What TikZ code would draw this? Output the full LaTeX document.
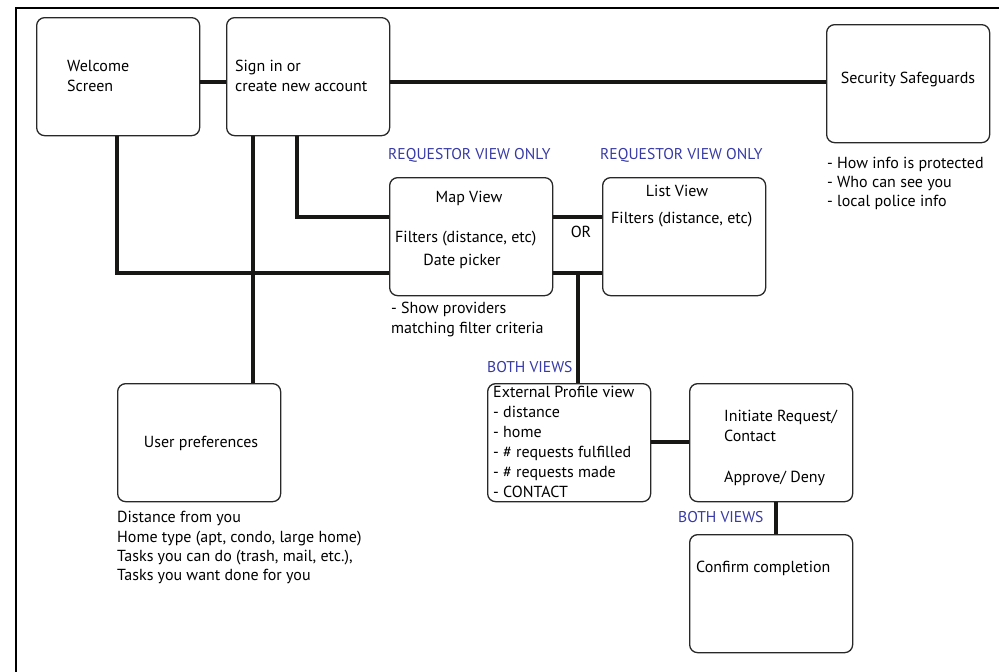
\documentclass[tikz,border=0pt]{standalone}
\usepackage{fontspec}
\setmainfont{PT Sans}
\begin{document}
\begin{tikzpicture}[x=1pt,y=-1pt,
  box/.style={draw={rgb,255:red,40;green,40;blue,40}, line width=1.3pt, rounded corners=8pt, fill=white,
    minimum width=163pt, minimum height=118pt, anchor=north west, inner sep=0pt},
  conn/.style={line width=4.6pt, draw={rgb,255:red,25;green,22;blue,22}},
  txt/.style={anchor=base west, inner sep=0pt, font=\fontsize{16}{19}\selectfont},
  ctxt/.style={anchor=base, inner sep=0pt, font=\fontsize{16}{19}\selectfont},
  blue/.style={anchor=base west, inner sep=0pt, font=\fontsize{15.6}{18}\selectfont, text={rgb,255:red,55;green,58;blue,165}}]
\useasboundingbox (0,0) rectangle (999,672);
% frame
\draw[line width=2.8pt] (16,700) -- (16,8) -- (1020,8);
% boxes
\node[box] (welcome) at (36,17) {};
\node[box] (signin) at (226,17) {};
\node[box] (security) at (826,24) {};
\node[box] (map) at (389,177) {};
\node[box] (list) at (602,177) {};
\node[box] (userpref) at (117,383) {};
\node[box] (ext) at (487,383) {};
\node[box] (init) at (689,383) {};
\node[box] (confirm) at (689,534) {};
% routing coordinates
\coordinate (r1) at (0,82);
\coordinate (r2) at (0,217);
\coordinate (r3) at (0,273);
\coordinate (r4) at (0,442);
\coordinate (c1) at (117,0);
\coordinate (c2) at (253,0);
\coordinate (c3) at (297,0);
\coordinate (c4) at (578,0);
\coordinate (c5) at (776,0);
% connectors
\draw[conn] (welcome.east |- r1) -- (signin.west |- r1);
\draw[conn] (signin.east |- r1) -- (security.west |- r1);
\draw[conn] (c1 |- welcome.south) -- (c1 |- r3) -- (map.west |- r3);
\draw[conn] (c2 |- signin.south) -- (c2 |- userpref.north);
\draw[conn] (c3 |- signin.south) -- (c3 |- r2) -- (map.west |- r2);
\draw[conn] (map.east |- r2) -- (list.west |- r2);
\draw[conn] (map.east |- r3) -- (list.west |- r3);
\draw[conn] (c4 |- r3) -- (c4 |- ext.north);
\draw[conn] (ext.east |- r4) -- (init.west |- r4);
\draw[conn] (c5 |- init.south) -- (c5 |- confirm.north);
% texts
\node[txt] (t1) at (67,71) {Welcome};
\node[txt] (t2) at (67,91) {Screen};
\node[txt] (t3) at (235,71) {Sign in or};
\node[txt] (t4) at (235,91) {create new account};
\node[ctxt] (t5) at (908,83) {Security Safeguards};
\node[txt] (t6) at (827,168) {- How info is protected};
\node[txt] (t7) at (827,187) {- Who can see you};
\node[txt] (t8) at (827,206) {- local police info};
\node[blue] (t9) at (388,159) {REQUESTOR VIEW ONLY};
\node[blue] (t10) at (600,159) {REQUESTOR VIEW ONLY};
\node[ctxt] (t11) at (469,202) {Map View};
\node[txt] (t12) at (395,242) {Filters (distance, etc)};
\node[ctxt] (t13) at (462,265) {Date picker};
\node[ctxt] (t14) at (581,237) {OR};
\node[ctxt] (t15) at (677,196) {List View};
\node[txt] (t16) at (611,223) {Filters (distance, etc)};
\node[txt] (t17) at (391,313) {- Show providers};
\node[txt] (t18) at (391,333) {matching filter criteria};
\node[blue] (t19) at (487,372) {BOTH VIEWS};
\node[txt] (t20) at (493,397) {External Profile view};
\node[txt] (t21) at (493,417) {- distance};
\node[txt] (t22) at (493,437) {- home};
\node[txt] (t23) at (493,457) {- \# requests fulfilled};
\node[txt] (t24) at (493,477) {- \# requests made};
\node[txt] (t25) at (493,497) {- CONTACT};
\node[txt] (t26) at (724,421) {Initiate Request/};
\node[txt] (t27) at (724,441) {Contact};
\node[txt] (t28) at (724,482) {Approve/ Deny};
\node[blue] (t29) at (678,522) {BOTH VIEWS};
\node[txt] (t30) at (696,572) {Confirm completion};
\node[ctxt] (t31) at (201,447) {User preferences};
\node[txt] (t32) at (117,522) {Distance from you};
\node[txt] (t33) at (117,542) {Home type (apt, condo, large home)};
\node[txt] (t34) at (117,561) {Tasks you can do (trash, mail, etc.),};
\node[txt] (t35) at (117,580) {Tasks you want done for you};
\end{tikzpicture}
\end{document}
